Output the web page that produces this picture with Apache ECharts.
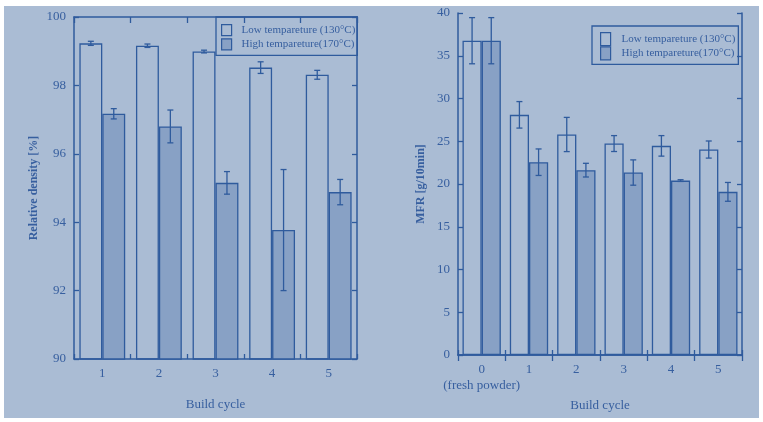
<!DOCTYPE html>
<html>
<head>
<meta charset="utf-8">
<script src="https://cdn.jsdelivr.net/npm/echarts@6/dist/echarts.min.js"></script>
<style>
html,body{margin:0;padding:0;background:#ffffff;}
#c{width:763px;height:422px;}
</style>
</head>
<body>
<div id="c"></div>
<script>
// ---- data ----
var lowName = 'Low tempareture (130\u00b0C)';
var highName = 'High tempareture(170\u00b0C)';

var densityCats = ['1', '2', '3', '4', '5'];
var densityLow = [99.23, 99.16, 98.99, 98.52, 98.31];
var densityLowErr = [0.06, 0.05, 0.04, 0.17, 0.13];
var densityHigh = [97.17, 96.80, 95.15, 93.77, 94.88];
var densityHighErr = [0.15, 0.48, 0.33, 1.77, 0.37];

var mfrCats = ['0\n(fresh powder)', '1', '2', '3', '4', '5'];
var mfrLow = [36.76, 28.09, 25.79, 24.73, 24.46, 24.03];
var mfrLowErr = [2.7, 1.55, 2.0, 0.93, 1.2, 1.0];
var mfrHigh = [36.76, 22.55, 21.62, 21.34, 20.40, 19.08];
var mfrHighErr = [2.7, 1.55, 0.8, 1.48, 0.1, 1.1];

// ---- styles ----
var BG = '#aabcd4';
var LINE = '#2f5b9d';
var TEXT = '#375f9f';
var HIGHFILL = '#88a1c5';
var FONT = '"Liberation Serif", "DejaVu Serif", serif';
var CAT_GAP = 0.19;

var chart = echarts.init(document.getElementById('c'), null, {renderer: 'canvas'});

function errSeries(name, cats, means, errs, xi, yi, sign) {
  var data = cats.map(function (c, i) { return [i, means[i], errs[i]]; });
  return {
    type: 'custom',
    name: name,
    xAxisIndex: xi,
    yAxisIndex: yi,
    z: 10,
    silent: true,
    encode: {x: 0, y: 1},
    data: data,
    renderItem: function (params, api) {
      var i = api.value(0), m = api.value(1), e = api.value(2);
      var band = api.size([1, 0])[0];
      var bw = band * (1 - CAT_GAP) / 2;
      var top = api.coord([i, m + e]);
      var bot = api.coord([i, m - e]);
      var x = top[0] + sign * bw / 2;
      var cap = 3;
      var st = {stroke: LINE, lineWidth: 1.3};
      return {
        type: 'group',
        children: [
          {type: 'line', shape: {x1: x, y1: top[1], x2: x, y2: bot[1]}, style: st},
          {type: 'line', shape: {x1: x - cap, y1: top[1], x2: x + cap, y2: top[1]}, style: st},
          {type: 'line', shape: {x1: x - cap, y1: bot[1], x2: x + cap, y2: bot[1]}, style: st}
        ]
      };
    }
  };
}

function barSeries(name, values, xi, yi, fill) {
  return {
    type: 'bar',
    name: name,
    xAxisIndex: xi,
    yAxisIndex: yi,
    data: values,
    barGap: '0%',
    barCategoryGap: (CAT_GAP * 100) + '%',
    itemStyle: {color: fill, borderColor: LINE, borderWidth: 1.3},
    emphasis: {disabled: true}
  };
}

var axisLine = {show: true, lineStyle: {color: LINE, width: 1.5}};
var tickStyle = {color: LINE, width: 1.3};
var labelStyle = {color: TEXT, fontFamily: FONT, fontSize: 13};

function xBottom(gridIndex, cats, nameGap) {
  return {
    type: 'category', gridIndex: gridIndex, position: 'bottom', data: cats,
    boundaryGap: true,
    axisLine: axisLine,
    axisTick: {show: true, inside: true, length: 5, interval: 0, lineStyle: tickStyle},
    axisLabel: Object.assign({margin: 7, lineHeight: 16, interval: 0}, labelStyle),
    splitLine: {show: false},
    name: 'Build cycle', nameLocation: 'middle', nameGap: nameGap,
    nameTextStyle: {color: TEXT, fontFamily: FONT, fontSize: 13}
  };
}
function xTop(gridIndex, cats) {
  return {
    type: 'category', gridIndex: gridIndex, position: 'top', data: cats,
    boundaryGap: true,
    axisLine: axisLine,
    axisTick: {show: true, inside: true, length: 6, interval: 0, lineStyle: tickStyle},
    axisLabel: {show: false},
    splitLine: {show: false}
  };
}
function yLeft(gridIndex, min, max, interval, name, nameGap) {
  return {
    type: 'value', gridIndex: gridIndex, position: 'left', min: min, max: max, interval: interval,
    axisLine: axisLine,
    axisTick: {show: true, inside: true, length: 5, lineStyle: tickStyle},
    axisLabel: Object.assign({margin: 8}, labelStyle),
    splitLine: {show: false},
    name: name, nameLocation: 'middle', nameGap: nameGap, nameRotate: 90,
    nameTextStyle: {color: TEXT, fontFamily: FONT, fontSize: 12, fontWeight: 'bold'}
  };
}
function yRight(gridIndex, min, max, interval) {
  return {
    type: 'value', gridIndex: gridIndex, position: 'right', min: min, max: max, interval: interval,
    axisLine: axisLine,
    axisTick: {show: true, inside: true, length: 5, lineStyle: tickStyle},
    axisLabel: {show: false},
    splitLine: {show: false}
  };
}

function legendAt(left, top, itemH, itemGap, pad, textPad) {
  return {
    left: left, top: top, orient: 'vertical',
    itemWidth: 10, itemHeight: itemH, itemGap: itemGap,
    padding: pad,
    borderColor: LINE, borderWidth: 1.3, borderRadius: 0,
    icon: 'rect',
    selectedMode: false,
    textStyle: {color: TEXT, fontFamily: FONT, fontSize: 11, lineHeight: 12, padding: [0, 0, 0, textPad]},
    itemStyle: {borderColor: LINE, borderWidth: 1.2},
    data: [
      {name: lowName, itemStyle: {color: 'rgba(0,0,0,0)', borderColor: LINE, borderWidth: 1.2}},
      {name: highName, itemStyle: {color: HIGHFILL, borderColor: LINE, borderWidth: 1.2}}
    ]
  };
}

var option = {
  backgroundColor: '#ffffff',
  animation: false,
  graphic: [{
    type: 'rect', z: -10, silent: true,
    shape: {x: 4, y: 6, width: 755, height: 412},
    style: {fill: BG}
  }],
  grid: [
    {left: 74, top: 17, width: 283, height: 342},
    {left: 458, top: 13, width: 284, height: 342}
  ],
  legend: [
    legendAt(216, 17, 11, 2, [7, 2, 5, 5], 5),
    legendAt(592, 26, 13, 0, [6, 3, 4, 8], 6)
  ],
  xAxis: [
    xBottom(0, densityCats, 39),
    xTop(0, densityCats),
    xBottom(1, mfrCats, 27),
    xTop(1, mfrCats)
  ],
  yAxis: [
    yLeft(0, 90, 100, 2, 'Relative density [%]', 34),
    yRight(0, 90, 100, 2),
    yLeft(1, 0, 40, 5, 'MFR [g/10min]', 31),
    yRight(1, 0, 40, 5)
  ],
  series: [
    barSeries(lowName, densityLow, 0, 0, 'rgba(0,0,0,0)'),
    barSeries(highName, densityHigh, 0, 0, HIGHFILL),
    errSeries('errDL', densityCats, densityLow, densityLowErr, 0, 0, -1),
    errSeries('errDH', densityCats, densityHigh, densityHighErr, 0, 0, 1),
    barSeries(lowName, mfrLow, 2, 2, 'rgba(0,0,0,0)'),
    barSeries(highName, mfrHigh, 2, 2, HIGHFILL),
    errSeries('errML', mfrCats, mfrLow, mfrLowErr, 2, 2, -1),
    errSeries('errMH', mfrCats, mfrHigh, mfrHighErr, 2, 2, 1)
  ]
};
chart.setOption(option);
</script>
</body>
</html>
